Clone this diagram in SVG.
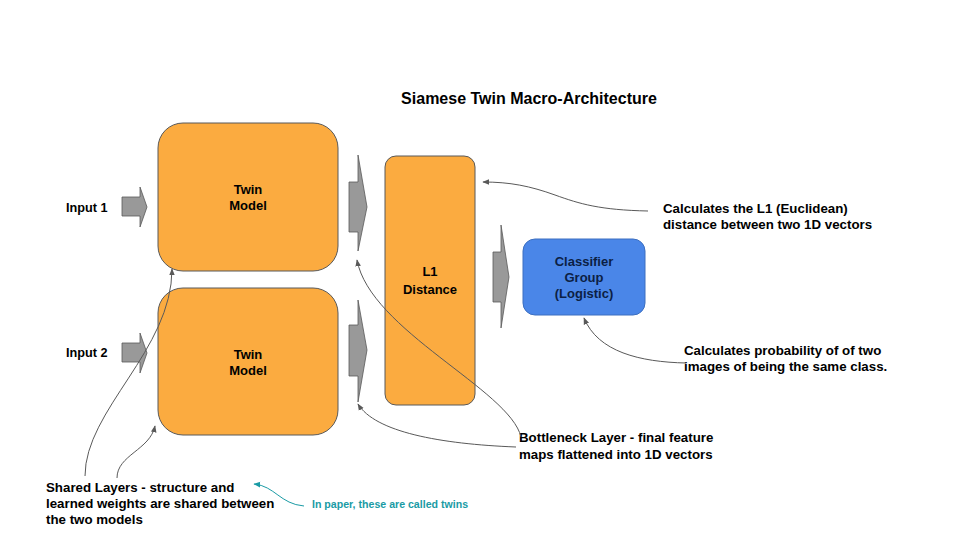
<svg xmlns="http://www.w3.org/2000/svg" width="960" height="540" viewBox="0 0 960 540">
<defs>
<style>
.t{font-family:"Liberation Sans",Arial,sans-serif;font-weight:bold;font-size:13.3px;fill:#000}
.n{font-size:13px}
.c{text-anchor:middle}
.org{fill:#fbab40;stroke:#595959;stroke-width:1}
.blk{fill:#999999;stroke:#595959;stroke-width:0.8}
.con{fill:none;stroke:#595959;stroke-width:1}
.teal{fill:none;stroke:#1a9ba5;stroke-width:1}
</style>
<marker id="ah" viewBox="0 0 10 10" refX="9" refY="5" markerWidth="7" markerHeight="7" orient="auto-start-reverse" markerUnits="userSpaceOnUse"><path d="M0,1 L10,5 L0,9 z" fill="#595959"/></marker>
<marker id="aht" viewBox="0 0 10 10" refX="9" refY="5" markerWidth="7" markerHeight="7" orient="auto-start-reverse" markerUnits="userSpaceOnUse"><path d="M0,1 L10,5 L0,9 z" fill="#1a9ba5"/></marker>
</defs>
<rect width="960" height="540" fill="#ffffff"/>
<text class="t c" x="529" y="104" style="font-size:16px">Siamese Twin Macro-Architecture</text>

<g id="input1"><text class="t" x="66" y="212" style="font-size:12.7px">Input 1</text><path class="blk" d="M122,197 H140 V187 L147,207 L140,227 V216 H122 Z"/></g>
<g id="input2"><text class="t" x="66" y="357" style="font-size:12.7px">Input 2</text><path class="blk" d="M122,343 H140 V333 L147,353 L140,373 V362 H122 Z"/></g>

<g id="twin1"><rect class="org" x="158" y="123" width="180" height="148" rx="25"/><text class="t n c" x="248" y="194">Twin</text><text class="t n c" x="248" y="210">Model</text></g>
<g id="twin2"><rect class="org" x="158" y="288" width="180" height="147" rx="25"/><text class="t n c" x="248" y="359">Twin</text><text class="t n c" x="248" y="375">Model</text></g>

<g id="arrow1"><path class="blk" d="M349,182 H358 V155 L367,207 L358,251 V232 H349 Z"/></g>
<g id="arrow2"><path class="blk" d="M349,325 H358 V300 L367,350 L358,402 V376 H349 Z"/></g>

<g id="l1"><rect class="org" x="385" y="156" width="90" height="249" rx="11"/><text class="t n c" x="430" y="276">L1</text><text class="t n c" x="430" y="294">Distance</text></g>

<g id="arrow3"><path class="blk" d="M493,252 H501 V225 L509,277 L501,328 V302 H493 Z"/></g>

<g id="classifier"><rect x="523" y="239" width="122" height="76" rx="12" fill="#4a86e8" stroke="#3c6fc0" stroke-width="1"/><text class="t n c" x="584" y="266" style="fill:#0c1f44">Classifier</text><text class="t n c" x="584" y="282" style="fill:#0c1f44">Group</text><text class="t n c" x="584" y="298" style="fill:#0c1f44">(Logistic)</text></g>

<g id="note-l1"><text class="t" x="663" y="213">Calculates the L1 (Euclidean)</text><text class="t" x="663" y="229">distance between two 1D vectors</text></g>
<g id="note-cls"><text class="t" x="684" y="355">Calculates probability of of two</text><text class="t" x="684" y="371">images of being the same class.</text></g>
<g id="note-bottleneck"><text class="t" x="519" y="442">Bottleneck Layer - final feature</text><text class="t" x="519" y="459">maps flattened into 1D vectors</text></g>
<g id="note-shared"><text class="t" x="46" y="492">Shared Layers - structure and</text><text class="t" x="46" y="508">learned weights are shared between</text><text class="t" x="46" y="524">the two models</text></g>
<g id="note-twins"><text class="t" x="312" y="508" style="font-size:10.6px;fill:#1a9ba5">In paper, these are called twins</text></g>

<g id="connectors">
<path class="con" marker-end="url(#ah)" d="M648,211 C600,210 580,204 555,195 C530,186 510,182 483,182"/>
<path class="con" marker-end="url(#ah)" d="M686,363 C640,362 598,352 584,318"/>
<path class="con" marker-end="url(#ah)" d="M521,437 C510,390 370,330 357,260"/>
<path class="con" marker-end="url(#ah)" d="M516,447 C440,444 375,432 358,404"/>
<path class="con" marker-end="url(#ah)" d="M85,476 C85,410 172,350 172,269"/>
<path class="con" marker-end="url(#ah)" d="M117,478 C117,455 150,450 155,426"/>
<path class="teal" marker-end="url(#aht)" d="M304,506 C280,504 275,486 254,484"/>
</g>
</svg>
